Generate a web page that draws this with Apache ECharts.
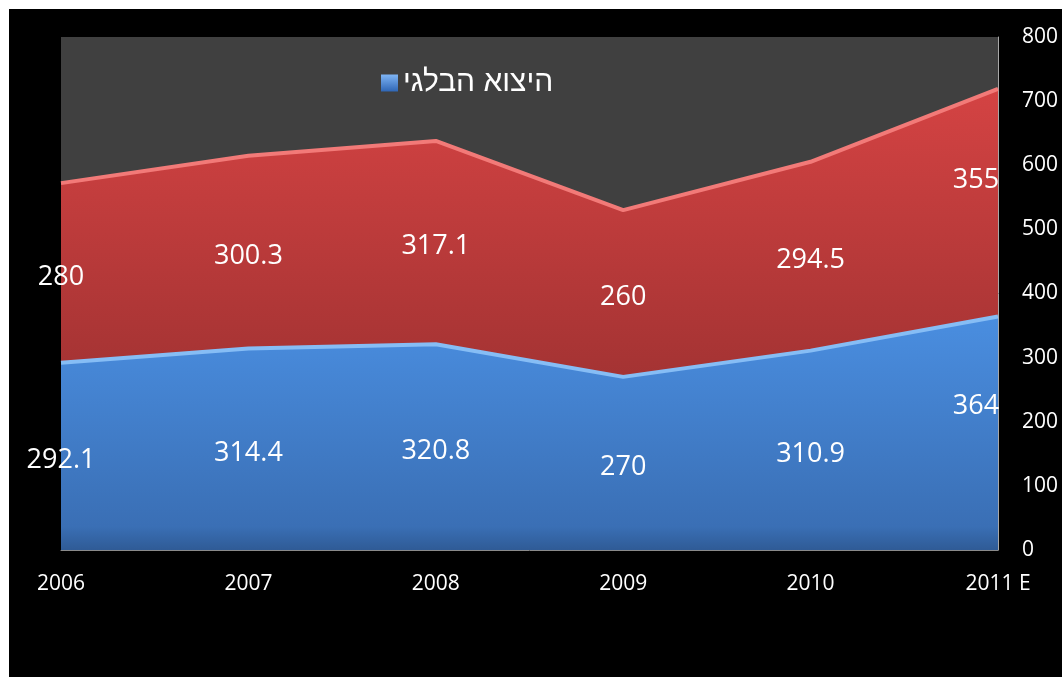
<!DOCTYPE html>
<html>
<head>
<meta charset="utf-8">
<script src="https://cdn.jsdelivr.net/npm/echarts@6/dist/echarts.min.js"></script>
<style>
html,body{margin:0;padding:0;background:#fff;width:1062px;height:679px;overflow:hidden;}
#c{position:absolute;left:9px;top:9px;width:1053px;height:668px;}
</style>
</head>
<body>
<div id="c"></div>
<script>
const years = ['2006', '2007', '2008', '2009', '2010', '2011 E'];
const belgianExport = [292.1, 314.4, 320.8, 270, 310.9, 364];
const otherExport = [280, 300.3, 317.1, 260, 294.5, 355];
const yTicks = {min: 0, max: 800, interval: 100};
const legendName = 'היצוא הבלגי';
const otherName = 'יצוא אחר';

const FONT = "'Open Sans', 'Liberation Sans', sans-serif";
const HEB = "'Liberation Sans', 'DejaVu Sans', sans-serif";

const baseOffset = [0, 4];
const lastOffsetBlue = [-22, -27];
const lastOffsetRed = [-22, -22];

const blueMid = belgianExport.map((v, i) => ({
  value: [years[i], v / 2],
  label: {offset: i === years.length - 1 ? lastOffsetBlue : baseOffset}
}));
const redMid = otherExport.map((v, i) => ({
  value: [years[i], belgianExport[i] + v / 2],
  label: {offset: i === years.length - 1 ? lastOffsetRed : baseOffset}
}));

const chart = echarts.init(document.getElementById('c'));
chart.setOption({
  backgroundColor: '#000',
  animation: false,
  grid: {left: 52, right: 64, top: 28, bottom: 127, show: true, backgroundColor: '#404040', borderWidth: 0},
  legend: {
    data: [{name: legendName, icon: 'rect', itemStyle: {color: new echarts.graphic.LinearGradient(0,0,0,1,[{offset:0,color:'#7fb5f5'},{offset:1,color:'#2f66b5'}])}}],
    left: 367, top: 54,
    itemWidth: 17, itemHeight: 17, itemGap: 2,
    textStyle: {color: '#fff', fontSize: 30, fontFamily: HEB}
  },
  xAxis: {
    type: 'category', data: years, boundaryGap: false,
    axisLine: {show: true, lineStyle: {color: '#8a8a8a', width: 1}},
    axisTick: {show: false},
    axisLabel: {color: '#fff', fontSize: 21, fontFamily: FONT, margin: 24},
    splitLine: {show: false}
  },
  yAxis: {
    type: 'value', position: 'right', min: yTicks.min, max: yTicks.max, interval: yTicks.interval,
    axisLine: {show: true, lineStyle: {color: '#a8a8a8', width: 1}},
    axisTick: {show: false},
    axisLabel: {color: '#fff', fontSize: 21, fontFamily: FONT, margin: 24},
    splitLine: {show: false}
  },
  series: [
    {
      name: legendName, type: 'line', stack: 'total', data: belgianExport,
      symbol: 'none', smooth: false,
      lineStyle: {color: '#86bdf5', width: 4},
      areaStyle: {opacity: 1, color: new echarts.graphic.LinearGradient(0,0,0,1,[
        {offset: 0, color: '#4a8ee0'}, {offset: 0.9, color: '#3a6fb5'}, {offset: 1, color: '#2f5b96'}])},
      z: 2
    },
    {
      name: otherName, type: 'line', stack: 'total', data: otherExport,
      symbol: 'none', smooth: false,
      lineStyle: {color: '#f27a78', width: 4},
      areaStyle: {opacity: 1, color: new echarts.graphic.LinearGradient(0,0,0,1,[
        {offset: 0, color: '#d44343'}, {offset: 1, color: '#a43333'}])},
      z: 1
    },
    {
      name: 'lblBlue', type: 'scatter', data: blueMid, symbolSize: 0, silent: true, z: 5,
      itemStyle: {opacity: 1},
      label: {show: true, position: 'inside', color: '#fff', fontSize: 27, fontFamily: FONT,
        formatter: p => String(belgianExport[p.dataIndex])}
    },
    {
      name: 'lblRed', type: 'scatter', data: redMid, symbolSize: 0, silent: true, z: 5,
      itemStyle: {opacity: 1},
      label: {show: true, position: 'inside', color: '#fff', fontSize: 27, fontFamily: FONT,
        formatter: p => String(otherExport[p.dataIndex])}
    }
  ]
});
</script>
</body>
</html>
